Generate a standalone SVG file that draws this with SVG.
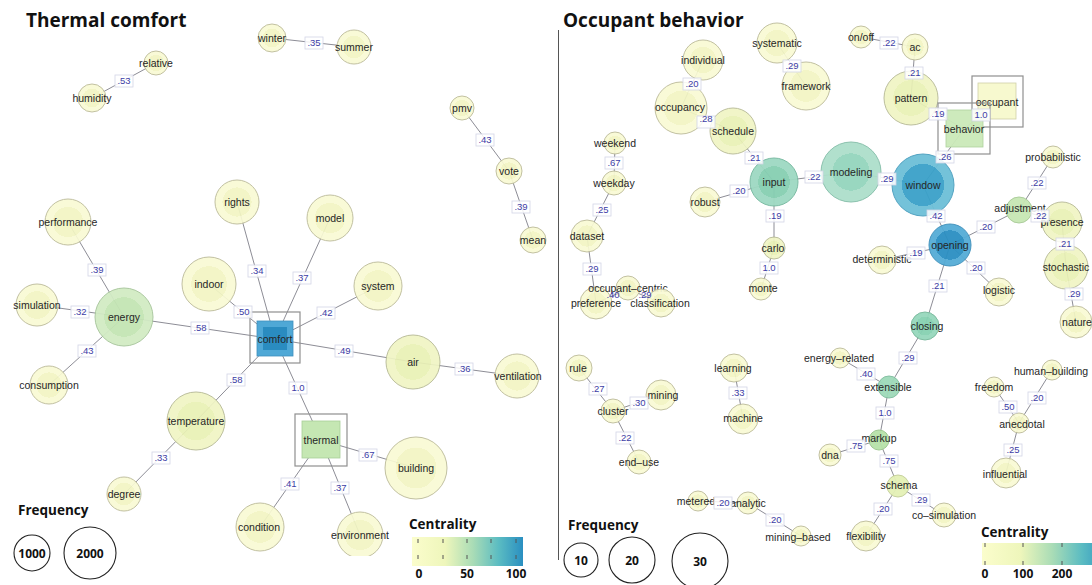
<svg xmlns="http://www.w3.org/2000/svg" width="1092" height="585" viewBox="0 0 1092 585">
  <style>
    .e { stroke: #8d8d96; stroke-width: 1; fill: none; }
    .t { font-family: "Liberation Sans", Arial, sans-serif; font-size: 10.5px; fill: #262626; text-anchor: middle; }
    .el rect { fill: #ffffff; fill-opacity: 0.85; stroke: #d3d5e6; stroke-width: 0.8; }
    .el text, .lt { font-family: "Liberation Sans", Arial, sans-serif; font-size: 9.5px; fill: #3d3da6; text-anchor: middle; }
    .ny { fill: url(#gY); stroke: #bdbc9a; stroke-width: 1; opacity: 0.92; }
    .ny2 { fill: url(#gY2); stroke: #b7ba95; stroke-width: 1; opacity: 0.92; }
    .frame { fill: none; stroke: #8f8f8f; stroke-width: 1.2; }
    .title { font-family: "Open Sans", "Liberation Sans", sans-serif; font-weight: 700; font-size: 19px; fill: #111; }
    .leg { font-family: "Open Sans", "Liberation Sans", sans-serif; font-weight: 700; font-size: 13.5px; fill: #111; }
    .legn { font-family: "Open Sans", "Liberation Sans", sans-serif; font-weight: 700; font-size: 12px; fill: #111; text-anchor: middle; }
    .lc { fill: #fff; stroke: #222; stroke-width: 1.1; }
    .tick { stroke: #555; stroke-width: 1; }
  </style>
  <defs>
    <radialGradient id="gY"><stop offset="0.66" stop-color="#f2f5c3"/><stop offset="0.66" stop-color="#f9fad4"/></radialGradient>
    <radialGradient id="gY2"><stop offset="0.66" stop-color="#e9f1b5"/><stop offset="0.66" stop-color="#f0f5c4"/></radialGradient>
    <radialGradient id="gEnergy"><stop offset="0.68" stop-color="#c4e5b4"/><stop offset="0.68" stop-color="#d2ebc4"/></radialGradient>
    <radialGradient id="gInput"><stop offset="0.66" stop-color="#86cfb2"/><stop offset="0.66" stop-color="#9ed9c2"/></radialGradient>
    <radialGradient id="gModel"><stop offset="0.62" stop-color="#94d5bd"/><stop offset="0.62" stop-color="#addfcb"/></radialGradient>
    <radialGradient id="gWindow"><stop offset="0.68" stop-color="#3aa1c9"/><stop offset="0.68" stop-color="#6dbfd8"/></radialGradient>
    <radialGradient id="gOpening"><stop offset="0.7" stop-color="#2b8fc2"/><stop offset="0.7" stop-color="#55acd6"/></radialGradient>
    <radialGradient id="gClosing"><stop offset="0.66" stop-color="#86d1b2"/><stop offset="0.66" stop-color="#96d8bc"/></radialGradient>
    <linearGradient id="cbL" x1="0" x2="1" y1="0" y2="0">
      <stop offset="0" stop-color="#fbfdcc"/>
      <stop offset="0.3" stop-color="#eef6bb"/>
      <stop offset="0.55" stop-color="#a9dcb6"/>
      <stop offset="0.78" stop-color="#5bbcc2"/>
      <stop offset="1" stop-color="#2a8fc1"/>
    </linearGradient>
    <linearGradient id="cbR" x1="982" x2="1110" y1="0" y2="0" gradientUnits="userSpaceOnUse">
      <stop offset="0" stop-color="#fbfdcc"/>
      <stop offset="0.3" stop-color="#eef6bb"/>
      <stop offset="0.55" stop-color="#a9dcb6"/>
      <stop offset="0.78" stop-color="#5bbcc2"/>
      <stop offset="1" stop-color="#2a8fc1"/>
    </linearGradient>
    <clipPath id="plotL"><rect x="0" y="0" width="556" height="556"/></clipPath>
  </defs>

  <rect width="1092" height="585" fill="#ffffff"/>

  <!-- panel titles and divider -->
  <text class="title" x="26" y="27">Thermal comfort</text>
  <text class="title" x="563" y="27">Occupant behavior</text>
  <line x1="558.5" y1="30" x2="558.5" y2="560" stroke="#555" stroke-width="1"/>

  <!-- connectors -->
  <g id="connectors">
    <!-- thermal comfort network -->
    <line class="e" x1="272" y1="38" x2="354" y2="47"/>
    <line class="e" x1="156" y1="63" x2="92" y2="98"/>
    <line class="e" x1="462" y1="108" x2="509" y2="171"/>
    <line class="e" x1="509" y1="171" x2="533" y2="240"/>
    <line class="e" x1="68" y1="222" x2="124" y2="317"/>
    <line class="e" x1="37" y1="305" x2="124" y2="317"/>
    <line class="e" x1="49" y1="385" x2="124" y2="317"/>
    <line class="e" x1="124" y1="317" x2="275" y2="339"/>
    <line class="e" x1="237" y1="202" x2="275" y2="339"/>
    <line class="e" x1="209" y1="284" x2="275" y2="339"/>
    <line class="e" x1="330" y1="218" x2="275" y2="339"/>
    <line class="e" x1="378" y1="286" x2="275" y2="339"/>
    <line class="e" x1="275" y1="339" x2="413" y2="362"/>
    <line class="e" x1="413" y1="362" x2="517" y2="376"/>
    <line class="e" x1="275" y1="339" x2="196" y2="421"/>
    <line class="e" x1="275" y1="339" x2="321" y2="440"/>
    <line class="e" x1="196" y1="421" x2="124" y2="494"/>
    <line class="e" x1="321" y1="440" x2="416" y2="468"/>
    <line class="e" x1="321" y1="440" x2="260" y2="527"/>
    <line class="e" x1="321" y1="440" x2="360" y2="535"/>
    <!-- occupant behavior network -->
    <line class="e" x1="703" y1="60" x2="681" y2="108"/>
    <line class="e" x1="681" y1="108" x2="733" y2="131"/>
    <line class="e" x1="733" y1="131" x2="774" y2="182"/>
    <line class="e" x1="777" y1="43" x2="806" y2="86"/>
    <line class="e" x1="615" y1="143" x2="614" y2="183"/>
    <line class="e" x1="614" y1="183" x2="587" y2="236"/>
    <line class="e" x1="587" y1="236" x2="596" y2="303"/>
    <line class="e" x1="596" y1="303" x2="628" y2="289"/>
    <line class="e" x1="628" y1="289" x2="661" y2="303"/>
    <line class="e" x1="705" y1="202" x2="774" y2="182"/>
    <line class="e" x1="774" y1="182" x2="851" y2="172"/>
    <line class="e" x1="774" y1="182" x2="774" y2="248"/>
    <line class="e" x1="774" y1="248" x2="761" y2="289"/>
    <line class="e" x1="851" y1="172" x2="923" y2="185"/>
    <line class="e" x1="861" y1="37" x2="915" y2="47"/>
    <line class="e" x1="915" y1="47" x2="911" y2="98"/>
    <line class="e" x1="911" y1="98" x2="964" y2="129"/>
    <line class="e" x1="964" y1="129" x2="997" y2="101"/>
    <line class="e" x1="964" y1="129" x2="923" y2="185"/>
    <line class="e" x1="923" y1="185" x2="950" y2="245"/>
    <line class="e" x1="950" y1="245" x2="882" y2="260"/>
    <line class="e" x1="950" y1="245" x2="1019" y2="210"/>
    <line class="e" x1="1019" y1="210" x2="1062" y2="222"/>
    <line class="e" x1="1053" y1="157" x2="1019" y2="210"/>
    <line class="e" x1="1062" y1="222" x2="1066" y2="267"/>
    <line class="e" x1="1066" y1="267" x2="1076" y2="322"/>
    <line class="e" x1="950" y1="245" x2="999" y2="292"/>
    <line class="e" x1="950" y1="245" x2="925" y2="326"/>
    <line class="e" x1="925" y1="326" x2="889" y2="387"/>
    <line class="e" x1="840" y1="358" x2="889" y2="387"/>
    <line class="e" x1="889" y1="387" x2="879" y2="440"/>
    <line class="e" x1="879" y1="440" x2="830" y2="455"/>
    <line class="e" x1="879" y1="440" x2="898" y2="486"/>
    <line class="e" x1="898" y1="486" x2="944" y2="515"/>
    <line class="e" x1="898" y1="486" x2="866" y2="536"/>
    <line class="e" x1="1052" y1="370" x2="1019" y2="423"/>
    <line class="e" x1="994" y1="387" x2="1019" y2="423"/>
    <line class="e" x1="1019" y1="423" x2="1006" y2="473"/>
    <line class="e" x1="579" y1="368" x2="613" y2="411"/>
    <line class="e" x1="613" y1="411" x2="661" y2="395"/>
    <line class="e" x1="613" y1="411" x2="639" y2="462"/>
    <line class="e" x1="734" y1="368" x2="743" y2="419"/>
    <line class="e" x1="698" y1="501" x2="748" y2="503"/>
    <line class="e" x1="748" y1="503" x2="801" y2="536"/>
  </g>

  <!-- thermal comfort nodes -->
  <g id="n-winter"><circle class="ny" cx="272" cy="38" r="14"/><text class="t" x="272" y="41.7">winter</text></g>
  <g id="n-summer"><circle class="ny" cx="354" cy="47" r="17"/><text class="t" x="354" y="50.7">summer</text></g>
  <g id="n-relative"><circle class="ny" cx="156" cy="63" r="12"/><text class="t" x="156" y="66.7">relative</text></g>
  <g id="n-humidity"><circle class="ny" cx="92" cy="98" r="14"/><text class="t" x="92" y="101.7">humidity</text></g>
  <g id="n-pmv"><circle class="ny" cx="462" cy="108" r="12"/><text class="t" x="462" y="111.7">pmv</text></g>
  <g id="n-vote"><circle class="ny" cx="509" cy="171" r="13"/><text class="t" x="509" y="174.7">vote</text></g>
  <g id="n-mean"><circle class="ny" cx="533" cy="240" r="13"/><text class="t" x="533" y="243.7">mean</text></g>
  <g id="n-performance"><circle class="ny" cx="68" cy="222" r="23"/><text class="t" x="68" y="225.7">performance</text></g>
  <g id="n-rights"><circle class="ny" cx="237" cy="202" r="22"/><text class="t" x="237" y="205.7">rights</text></g>
  <g id="n-model"><circle class="ny" cx="330" cy="218" r="23"/><text class="t" x="330" y="221.7">model</text></g>
  <g id="n-indoor"><circle class="ny" cx="209" cy="284" r="27"/><text class="t" x="209" y="287.7">indoor</text></g>
  <g id="n-system"><circle class="ny" cx="378" cy="286" r="24"/><text class="t" x="378" y="289.7">system</text></g>
  <g id="n-simulation"><circle class="ny" cx="37" cy="305" r="21"/><text class="t" x="37" y="308.7">simulation</text></g>
  <g id="n-energy"><circle cx="124" cy="317" r="29" fill="url(#gEnergy)" stroke="#a9c79d" stroke-width="1" opacity="0.95"/><text class="t" x="124" y="320.7">energy</text></g>
  <g id="n-consumption"><circle class="ny" cx="49" cy="385" r="19"/><text class="t" x="49" y="388.7">consumption</text></g>
  <g id="n-comfort">
    <rect class="frame" x="250" y="312" width="50" height="51"/>
    <rect x="257" y="321" width="36" height="35" fill="#4fa8d6" stroke="#3f8fbd" stroke-width="0.8"/>
    <rect x="263" y="327" width="24" height="23" fill="#2a8cc0"/>
    <text class="t" x="275" y="343">comfort</text>
  </g>
  <g id="n-air"><circle class="ny2" cx="413" cy="362" r="27"/><text class="t" x="413" y="365.7">air</text></g>
  <g id="n-ventilation"><circle class="ny" cx="517" cy="376" r="22"/><text class="t" x="518" y="379.7">ventilation</text></g>
  <g id="n-temperature"><circle class="ny2" cx="196" cy="421" r="29"/><text class="t" x="196" y="424.7">temperature</text></g>
  <g id="n-degree"><circle class="ny" cx="124" cy="494" r="17"/><text class="t" x="124" y="497.7">degree</text></g>
  <g id="n-thermal">
    <rect class="frame" x="295" y="414" width="52" height="52"/>
    <rect x="302" y="421" width="38" height="37" fill="#c5e7b3" stroke="#a9cf98" stroke-width="0.8"/>
    <text class="t" x="321" y="443.7">thermal</text>
  </g>
  <g id="n-building"><circle class="ny" cx="416" cy="468" r="31"/><text class="t" x="416" y="471.7">building</text></g>
  <g id="n-condition"><circle class="ny" cx="260" cy="527" r="24"/><text class="t" x="259" y="530.7">condition</text></g>
  <g id="n-environment" clip-path="url(#plotL)"><circle class="ny" cx="360" cy="535" r="23"/><text class="t" x="360" y="538.7">environment</text></g>

  <!-- occupant behavior nodes -->
  <g id="n-individual"><circle class="ny" cx="703" cy="60" r="20"/><text class="t" x="703" y="63.7">individual</text></g>
  <g id="n-occupancy"><circle class="ny" cx="681" cy="108" r="26"/><text class="t" x="680" y="110.7">occupancy</text></g>
  <g id="n-schedule"><circle class="ny2" cx="733" cy="131" r="23"/><text class="t" x="733" y="134.7">schedule</text></g>
  <g id="n-systematic"><circle class="ny" cx="777" cy="43" r="20"/><text class="t" x="777" y="46.7">systematic</text></g>
  <g id="n-framework"><circle class="ny" cx="806" cy="86" r="24"/><text class="t" x="806" y="89.7">framework</text></g>
  <g id="n-weekend"><circle class="ny" cx="615" cy="143" r="11"/><text class="t" x="615" y="146.7">weekend</text></g>
  <g id="n-weekday"><circle class="ny" cx="614" cy="183" r="12"/><text class="t" x="614" y="186.7">weekday</text></g>
  <g id="n-dataset"><circle class="ny" cx="587" cy="236" r="16"/><text class="t" x="587" y="239.7">dataset</text></g>
  <g id="n-preference"><circle class="ny" cx="596" cy="303" r="16"/><text class="t" x="596" y="306.7">preference</text></g>
  <g id="n-occupant-centric"><circle class="ny" cx="628" cy="288" r="12"/><text class="t" x="628" y="292">occupant–centric</text></g>
  <g id="n-classification"><circle class="ny" cx="661" cy="303" r="14"/><text class="t" x="660" y="306.7">classification</text></g>
  <g id="n-robust"><circle class="ny" cx="705" cy="202" r="15"/><text class="t" x="705" y="205.7">robust</text></g>
  <g id="n-input"><circle cx="774" cy="182" r="24" fill="url(#gInput)" stroke="#76b9a0" stroke-width="1" opacity="0.95"/><text class="t" x="774" y="185.7">input</text></g>
  <g id="n-carlo"><circle class="ny2" cx="774" cy="248" r="11"/><text class="t" x="773" y="251.7">carlo</text></g>
  <g id="n-monte"><circle class="ny" cx="761" cy="289" r="11"/><text class="t" x="763" y="291.7">monte</text></g>
  <g id="n-modeling"><circle cx="851" cy="172" r="30" fill="url(#gModel)" stroke="#86bfaa" stroke-width="1" opacity="0.95"/><text class="t" x="851" y="175.7">modeling</text></g>
  <g id="n-window"><circle cx="923" cy="185" r="31" fill="url(#gWindow)" stroke="#4b9fbf" stroke-width="1" opacity="0.95"/><text class="t" x="923" y="188.7">window</text></g>
  <g id="n-on-off"><circle class="ny" cx="861" cy="37" r="11"/><text class="t" x="861" y="40.7">on/off</text></g>
  <g id="n-ac"><circle class="ny" cx="915" cy="47" r="13"/><text class="t" x="915" y="50.7">ac</text></g>
  <g id="n-pattern"><circle class="ny2" cx="911" cy="98" r="27"/><text class="t" x="911" y="101.7">pattern</text></g>
  <g id="n-occupant">
    <rect class="frame" x="972" y="76" width="51" height="51"/>
    <rect x="978" y="83" width="38" height="36" fill="#f7f9cf" stroke="#cfd0a8" stroke-width="0.8"/>
    <text class="t" x="997" y="105.7">occupant</text>
  </g>
  <g id="n-behavior">
    <rect class="frame" x="938" y="103" width="52" height="51"/>
    <rect x="946" y="110" width="37" height="37" fill="#cae9b8" fill-opacity="0.95" stroke="#aed29d" stroke-width="0.8"/>
    <text class="t" x="964" y="132.7">behavior</text>
  </g>
  <g id="n-opening"><circle cx="950" cy="245" r="21" fill="url(#gOpening)" stroke="#3c8fbb" stroke-width="1" opacity="0.95"/><text class="t" x="950" y="248.7">opening</text></g>
  <g id="n-deterministic"><circle class="ny" cx="882" cy="260" r="14"/><text class="t" x="882" y="263.2">deterministic</text></g>
  <g id="n-adjustment"><circle cx="1019" cy="210" r="13" fill="#c7e7b4" stroke="#a9cb98" stroke-width="1" opacity="0.95"/><text class="t" x="1020" y="212.2">adjustment</text></g>
  <g id="n-probabilistic"><circle class="ny" cx="1053" cy="157" r="11"/><text class="t" x="1053" y="160.7">probabilistic</text></g>
  <g id="n-presence"><circle class="ny2" cx="1062" cy="222" r="20"/><text class="t" x="1062" y="226.2">presence</text></g>
  <g id="n-stochastic"><circle class="ny2" cx="1066" cy="267" r="22"/><text class="t" x="1066" y="270.7">stochastic</text></g>
  <g id="n-nature"><circle class="ny" cx="1076" cy="322" r="16"/><text class="t" x="1077" y="325.7">nature</text></g>
  <g id="n-logistic"><circle class="ny" cx="999" cy="292" r="14"/><text class="t" x="999" y="294.2">logistic</text></g>
  <g id="n-closing"><circle cx="925" cy="326" r="14" fill="url(#gClosing)" stroke="#78b99c" stroke-width="1" opacity="0.95"/><text class="t" x="927" y="330.2">closing</text></g>
  <g id="n-energy-related"><circle class="ny" cx="840" cy="358" r="10"/><text class="t" x="839" y="362.2">energy–related</text></g>
  <g id="n-extensible"><circle cx="889" cy="387" r="11" fill="#9edab9" stroke="#80be9f" stroke-width="1" opacity="0.95"/><text class="t" x="888" y="391.2">extensible</text></g>
  <g id="n-markup"><circle cx="879" cy="440" r="10" fill="#b7e2a9" stroke="#9cc78f" stroke-width="1" opacity="0.95"/><text class="t" x="879" y="441.7">markup</text></g>
  <g id="n-dna"><circle class="ny" cx="830" cy="455" r="11"/><text class="t" x="830" y="458.7">dna</text></g>
  <g id="n-schema"><circle cx="898" cy="486" r="11" fill="#e4f1b6" stroke="#c4cf99" stroke-width="1" opacity="0.95"/><text class="t" x="899" y="488.7">schema</text></g>
  <g id="n-co-simulation"><circle class="ny" cx="944" cy="515" r="12"/><text class="t" x="944" y="519.2">co–simulation</text></g>
  <g id="n-flexibility"><circle class="ny" cx="866" cy="536" r="15"/><text class="t" x="866" y="540.2">flexibility</text></g>
  <g id="n-human-building"><circle class="ny" cx="1052" cy="370" r="10"/><text class="t" x="1051" y="375.2">human–building</text></g>
  <g id="n-freedom"><circle class="ny" cx="994" cy="387" r="10"/><text class="t" x="994" y="391.2">freedom</text></g>
  <g id="n-anecdotal"><circle class="ny" cx="1019" cy="423" r="10"/><text class="t" x="1022" y="428.2">anecdotal</text></g>
  <g id="n-influential"><circle class="ny" cx="1006" cy="473" r="15"/><text class="t" x="1005" y="477.7">influential</text></g>
  <g id="n-rule"><circle class="ny" cx="579" cy="368" r="13"/><text class="t" x="578" y="371.7">rule</text></g>
  <g id="n-cluster"><circle class="ny" cx="613" cy="411" r="12"/><text class="t" x="613" y="415.2">cluster</text></g>
  <g id="n-mining"><circle class="ny" cx="661" cy="395" r="15"/><text class="t" x="663" y="398.7">mining</text></g>
  <g id="n-end-use"><circle class="ny" cx="639" cy="462" r="12"/><text class="t" x="639" y="465.7">end–use</text></g>
  <g id="n-learning"><circle class="ny" cx="734" cy="368" r="14"/><text class="t" x="733" y="371.7">learning</text></g>
  <g id="n-machine"><circle class="ny" cx="743" cy="419" r="15"/><text class="t" x="743" y="421.7">machine</text></g>
  <g id="n-metered"><circle class="ny" cx="698" cy="501" r="10"/><text class="t" x="696" y="504.7">metered</text></g>
  <g id="n-analytic"><circle class="ny" cx="748" cy="503" r="11"/><text class="t" x="748" y="506.7">analytic</text></g>
  <g id="n-mining-based"><circle class="ny" cx="801" cy="536" r="10"/><text class="t" x="798" y="540.7">mining–based</text></g>

  <!-- connector weights -->
  <g id="edge-labels">
    <g class="el"><rect x="305" y="37" width="18" height="12"/><text x="314" y="46.3">.35</text></g>
    <g class="el"><rect x="115" y="75" width="18" height="12"/><text x="124" y="84.3">.53</text></g>
    <g class="el"><rect x="476" y="134" width="18" height="12"/><text x="485" y="143.3">.43</text></g>
    <g class="el"><rect x="512" y="201" width="18" height="12"/><text x="521" y="210.3">.39</text></g>
    <g class="el"><rect x="88" y="264" width="18" height="12"/><text x="97" y="273.3">.39</text></g>
    <g class="el"><rect x="71" y="306" width="18" height="12"/><text x="80" y="315.3">.32</text></g>
    <g class="el"><rect x="78" y="345" width="18" height="12"/><text x="87" y="354.3">.43</text></g>
    <g class="el"><rect x="191" y="322" width="18" height="12"/><text x="200" y="331.3">.58</text></g>
    <g class="el"><rect x="248" y="265" width="18" height="12"/><text x="257" y="274.3">.34</text></g>
    <g class="el"><rect x="234" y="306" width="18" height="12"/><text x="243" y="315.3">.50</text></g>
    <g class="el"><rect x="293" y="272" width="18" height="12"/><text x="302" y="281.3">.37</text></g>
    <g class="el"><rect x="317" y="307" width="18" height="12"/><text x="326" y="316.3">.42</text></g>
    <g class="el"><rect x="335" y="345" width="18" height="12"/><text x="344" y="354.3">.49</text></g>
    <g class="el"><rect x="455" y="363" width="18" height="12"/><text x="464" y="372.3">.36</text></g>
    <g class="el"><rect x="227" y="374" width="18" height="12"/><text x="236" y="383.3">.58</text></g>
    <g class="el"><rect x="289" y="382" width="18" height="12"/><text x="298" y="391.3">1.0</text></g>
    <g class="el"><rect x="152" y="452" width="18" height="12"/><text x="161" y="461.3">.33</text></g>
    <g class="el"><rect x="359" y="449" width="18" height="12"/><text x="368" y="458.3">.67</text></g>
    <g class="el"><rect x="281" y="478" width="18" height="12"/><text x="290" y="487.3">.41</text></g>
    <g class="el"><rect x="331" y="482" width="18" height="12"/><text x="340" y="491.3">.37</text></g>

    <g class="el"><rect x="683" y="78" width="18" height="12"/><text x="692" y="87.3">.20</text></g>
    <g class="el"><rect x="697" y="116" width="18" height="12"/><text x="706" y="122.3">.28</text></g>
    <g class="el"><rect x="745" y="152" width="18" height="12"/><text x="754" y="161.3">.21</text></g>
    <g class="el"><rect x="783" y="60" width="18" height="12"/><text x="792" y="69.3">.29</text></g>
    <g class="el"><rect x="605" y="157" width="18" height="12"/><text x="614" y="166.3">.67</text></g>
    <g class="el"><rect x="593" y="204" width="18" height="12"/><text x="602" y="213.3">.25</text></g>
    <g class="el"><rect x="583" y="263" width="18" height="12"/><text x="592" y="272.3">.29</text></g>
    <text class="lt" x="613" y="298.3">.40</text>
    <text class="lt" x="645" y="298.3">.29</text>
    <g class="el"><rect x="730" y="185" width="18" height="12"/><text x="739" y="194.3">.20</text></g>
    <g class="el"><rect x="805" y="171" width="18" height="12"/><text x="814" y="180.3">.22</text></g>
    <g class="el"><rect x="766" y="210" width="18" height="12"/><text x="775" y="219.3">.19</text></g>
    <g class="el"><rect x="760" y="262" width="18" height="12"/><text x="769" y="271.3">1.0</text></g>
    <g class="el"><rect x="878" y="173" width="18" height="12"/><text x="887" y="182.3">.29</text></g>
    <g class="el"><rect x="880" y="37" width="18" height="12"/><text x="889" y="46.3">.22</text></g>
    <g class="el"><rect x="905" y="67" width="18" height="12"/><text x="914" y="76.3">.21</text></g>
    <g class="el"><rect x="929" y="108" width="18" height="12"/><text x="938" y="117.3">.19</text></g>
    <g class="el"><rect x="972" y="109" width="18" height="12"/><text x="981" y="118.3">1.0</text></g>
    <g class="el"><rect x="936" y="151" width="18" height="12"/><text x="945" y="160.3">.26</text></g>
    <g class="el"><rect x="927" y="210" width="18" height="12"/><text x="936" y="219.3">.42</text></g>
    <g class="el"><rect x="907" y="247" width="18" height="12"/><text x="916" y="256.3">.19</text></g>
    <g class="el"><rect x="977" y="221" width="18" height="12"/><text x="986" y="230.3">.20</text></g>
    <g class="el"><rect x="1031" y="210" width="18" height="12"/><text x="1040" y="219.3">.22</text></g>
    <g class="el"><rect x="1028" y="177" width="18" height="12"/><text x="1037" y="186.3">.22</text></g>
    <g class="el"><rect x="1056" y="238" width="18" height="12"/><text x="1065" y="247.3">.21</text></g>
    <g class="el"><rect x="1065" y="288" width="18" height="12"/><text x="1074" y="297.3">.29</text></g>
    <g class="el"><rect x="967" y="262" width="18" height="12"/><text x="976" y="271.3">.20</text></g>
    <g class="el"><rect x="929" y="280" width="18" height="12"/><text x="938" y="289.3">.21</text></g>
    <g class="el"><rect x="899" y="352" width="18" height="12"/><text x="908" y="361.3">.29</text></g>
    <g class="el"><rect x="857" y="368" width="18" height="12"/><text x="866" y="377.3">.40</text></g>
    <g class="el"><rect x="876" y="407" width="18" height="12"/><text x="885" y="416.3">1.0</text></g>
    <g class="el"><rect x="847" y="440" width="18" height="12"/><text x="856" y="449.3">.75</text></g>
    <g class="el"><rect x="880" y="455" width="18" height="12"/><text x="889" y="464.3">.75</text></g>
    <g class="el"><rect x="912" y="494" width="18" height="12"/><text x="921" y="503.3">.29</text></g>
    <g class="el"><rect x="874" y="503" width="18" height="12"/><text x="883" y="512.3">.20</text></g>
    <g class="el"><rect x="1028" y="392" width="18" height="12"/><text x="1037" y="401.3">.20</text></g>
    <g class="el"><rect x="999" y="401" width="18" height="12"/><text x="1008" y="410.3">.50</text></g>
    <g class="el"><rect x="1004" y="444" width="18" height="12"/><text x="1013" y="453.3">.25</text></g>
    <g class="el"><rect x="589" y="383" width="18" height="12"/><text x="598" y="392.3">.27</text></g>
    <g class="el"><rect x="630" y="397" width="18" height="12"/><text x="639" y="406.3">.30</text></g>
    <g class="el"><rect x="616" y="432" width="18" height="12"/><text x="625" y="441.3">.22</text></g>
    <g class="el"><rect x="729" y="387" width="18" height="12"/><text x="738" y="396.3">.33</text></g>
    <g class="el"><rect x="714" y="497" width="18" height="12"/><text x="723" y="506.3">.20</text></g>
    <g class="el"><rect x="766" y="514" width="18" height="12"/><text x="775" y="523.3">.20</text></g>
  </g>

  <!-- size legend, thermal comfort -->
  <g id="legend-frequency-left">
    <text class="leg" x="18" y="515">Frequency</text>
    <circle class="lc" cx="32" cy="553" r="18"/>
    <text class="legn" x="32" y="557.5">1000</text>
    <circle class="lc" cx="90" cy="553" r="26"/>
    <text class="legn" x="90" y="557.5">2000</text>
  </g>
  <!-- colour legend, thermal comfort -->
  <g id="legend-centrality-left">
    <text class="leg" x="409" y="529">Centrality</text>
    <rect x="412" y="537" width="111" height="29" fill="url(#cbL)"/>
    <g class="tick">
      <line x1="418" y1="539" x2="418" y2="543"/><line x1="443" y1="539" x2="443" y2="543"/><line x1="467" y1="539" x2="467" y2="543"/><line x1="491" y1="539" x2="491" y2="543"/><line x1="516" y1="539" x2="516" y2="543"/>
      <line x1="418" y1="555" x2="418" y2="559"/><line x1="443" y1="555" x2="443" y2="559"/><line x1="467" y1="555" x2="467" y2="559"/><line x1="491" y1="555" x2="491" y2="559"/><line x1="516" y1="555" x2="516" y2="559"/>
    </g>
    <text class="legn" x="419" y="578">0</text>
    <text class="legn" x="467" y="578">50</text>
    <text class="legn" x="516" y="578">100</text>
  </g>

  <!-- size legend, occupant behavior -->
  <g id="legend-frequency-right">
    <text class="leg" x="568" y="530">Frequency</text>
    <circle class="lc" cx="581" cy="560" r="17"/>
    <text class="legn" x="581" y="564.5">10</text>
    <circle class="lc" cx="632" cy="560" r="23"/>
    <text class="legn" x="632" y="564.5">20</text>
    <circle class="lc" cx="700" cy="561" r="28"/>
    <text class="legn" x="700" y="565.5">30</text>
  </g>
  <!-- colour legend, occupant behavior -->
  <g id="legend-centrality-right">
    <text class="leg" x="981" y="537">Centrality</text>
    <rect x="982" y="543" width="110" height="22" fill="url(#cbR)"/>
    <g class="tick">
      <line x1="985" y1="543" x2="985" y2="547"/><line x1="1023" y1="543" x2="1023" y2="547"/><line x1="1062" y1="543" x2="1062" y2="547"/>
      <line x1="985" y1="561" x2="985" y2="565"/><line x1="1023" y1="561" x2="1023" y2="565"/><line x1="1062" y1="561" x2="1062" y2="565"/>
    </g>
    <text class="legn" x="985" y="578">0</text>
    <text class="legn" x="1023" y="578">100</text>
    <text class="legn" x="1062" y="578">200</text>
  </g>
</svg>
